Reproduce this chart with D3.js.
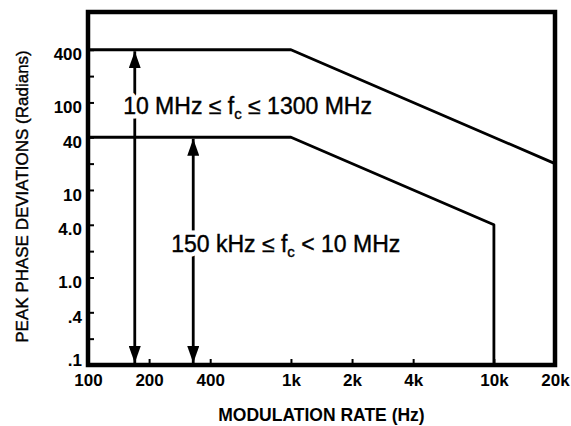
<!DOCTYPE html>
<html>
<head>
<meta charset="utf-8">
<script src="https://cdn.jsdelivr.net/npm/d3@7/dist/d3.min.js"></script>
<style>
  html, body { margin: 0; padding: 0; background: #fff; }
  svg { display: block; }
  text { font-family: "Liberation Sans", Arial, Helvetica, sans-serif; fill: #000; }
</style>
</head>
<body>
<svg id="chart" width="571" height="426"></svg>
<script>
// Modulation rate ticks (Hz) and their labels
const rateTicks = [100, 200, 400, 1000, 2000, 4000, 10000, 20000];
const rateLabels = ["100", "200", "400", "1k", "2k", "4k", "10k", "20k"];

// Peak phase deviation ticks (radians); only some carry labels
const devTicks = [0.1, 0.2, 0.4, 1, 2, 4, 10, 20, 40, 100, 200, 400];
const devLabelled = [0.1, 0.4, 1, 4, 10, 40, 100, 400];
const devLabels = [".1", ".4", "1.0", "4.0", "10", "40", "100", "400"];

// Limit curve for 10 MHz <= fc <= 1300 MHz
const upperRate = [100, 1000, 20000];
const upperDev = [400, 400, 20];

// Limit curve for 150 kHz <= fc < 10 MHz
const lowerRate = [100, 1000, 10000, 10000];
const lowerDev = [40, 40, 4, 0.1];

// Double-headed range arrows with their carrier-band captions
const arrowRate = [170, 330];
const arrowTop = [400, 40];
const bandLo = ["10 MHz", "150 kHz"];
const bandOp = ["≤", "<"];
const bandHi = ["1300 MHz", "10 MHz"];

const svg = d3.select("#chart");
const margin = { top: 12, right: 16, bottom: 61, left: 88 };
const W = 571, H = 426;

const x = d3.scaleLog().domain([100, 20000]).range([margin.left, W - margin.right]);
const y = d3.scaleLog().domain([0.1, 1080]).range([H - margin.bottom, margin.top]);

// arrowhead marker
svg.append("defs").append("marker")
  .attr("id", "head")
  .attr("viewBox", "0 0 17 12")
  .attr("refX", 17).attr("refY", 6)
  .attr("markerWidth", 17).attr("markerHeight", 12)
  .attr("markerUnits", "userSpaceOnUse")
  .attr("orient", "auto-start-reverse")
  .append("path")
  .attr("d", "M0,0 L17,6 L0,12 Z")
  .attr("fill", "#000");

// Axes (ticks point into the plot)
const yAxis = d3.axisLeft(y)
  .tickValues(devTicks)
  .tickSize(-6)
  .tickPadding(7)
  .tickFormat(d => {
    const i = devLabelled.indexOf(d);
    return i >= 0 ? devLabels[i] : "";
  });

const gy = svg.append("g")
  .attr("transform", `translate(${margin.left},0)`)
  .call(yAxis);
gy.select(".domain").remove();
gy.selectAll(".tick line").attr("stroke", "#000").attr("stroke-width", 2);
gy.selectAll(".tick text")
  .attr("font-size", 17).attr("font-weight", "bold")
  .attr("x", -6)
  .attr("dy", d => d === 0.1 ? "0.05em" : "0.6em");

const xAxis = d3.axisBottom(x)
  .tickValues(rateTicks)
  .tickSize(-6)
  .tickPadding(10)
  .tickFormat((d, i) => rateLabels[i]);

const gx = svg.append("g")
  .attr("transform", `translate(0,${H - margin.bottom})`)
  .call(xAxis);
gx.select(".domain").remove();
gx.selectAll(".tick line").attr("stroke", "#000").attr("stroke-width", 2);
gx.selectAll(".tick text")
  .attr("font-size", 17).attr("font-weight", "bold")
  .attr("y", 8).attr("dy", "0.78em");

// Limit curves
const line = d3.line().x(d => x(d[0])).y(d => y(d[1]));

svg.append("path")
  .datum(d3.zip(upperRate, upperDev))
  .attr("d", line)
  .attr("fill", "none").attr("stroke", "#000").attr("stroke-width", 2.8)
  .attr("stroke-linejoin", "round");

svg.append("path")
  .datum(d3.zip(lowerRate, lowerDev))
  .attr("d", line)
  .attr("fill", "none").attr("stroke", "#000").attr("stroke-width", 2.8)
  .attr("stroke-linejoin", "round");

// Range arrows
arrowRate.forEach((r, i) => {
  svg.append("line")
    .attr("x1", x(r)).attr("x2", x(r))
    .attr("y1", y(arrowTop[i]) + 1.5).attr("y2", y(0.1) - 2)
    .attr("stroke", "#000").attr("stroke-width", 2.8)
    .attr("marker-start", "url(#head)")
    .attr("marker-end", "url(#head)");
});

// Plot frame
svg.append("rect")
  .attr("x", x(100)).attr("y", y.range()[1])
  .attr("width", x(20000) - x(100))
  .attr("height", y(0.1) - y.range()[1])
  .attr("fill", "none").attr("stroke", "#000").attr("stroke-width", 4.5);

// Band captions: a white halo layer breaks the arrow shafts, then the text
const captionPos = [{ rate: 149, dev: 74 }, { rate: 257, dev: 1.95 }];
function caption(sel, i) {
  sel.append("tspan").text(`${bandLo[i]} ≤ f`);
  sel.append("tspan").attr("font-size", 15).attr("dy", 5).text("c");
  sel.append("tspan").attr("dy", -5).text(` ${bandOp[i]} ${bandHi[i]}`);
}
captionPos.forEach((p, i) => {
  svg.append("text")
    .attr("x", x(p.rate)).attr("y", y(p.dev))
    .attr("font-size", 23)
    .attr("fill", "#fff")
    .attr("stroke", "#fff").attr("stroke-width", 9)
    .attr("stroke-linejoin", "round")
    .call(caption, i);
  svg.append("text")
    .attr("x", x(p.rate)).attr("y", y(p.dev))
    .attr("font-size", 23)
    .attr("stroke", "#000").attr("stroke-width", 0.4)
    .call(caption, i);
});

// Axis titles
svg.append("text")
  .attr("x", (x(100) + x(20000)) / 2).attr("y", 421)
  .attr("text-anchor", "middle")
  .attr("font-size", 17.5).attr("font-weight", "bold")
  .text("MODULATION RATE (Hz)");

svg.append("text")
  .attr("transform", `translate(28,${(50 + 343) / 2}) rotate(-90)`)
  .attr("text-anchor", "middle")
  .attr("font-size", 17)
  .attr("stroke", "#000").attr("stroke-width", 0.4)
  .text("PEAK PHASE DEVIATIONS (Radians)");
</script>
</body>
</html>
